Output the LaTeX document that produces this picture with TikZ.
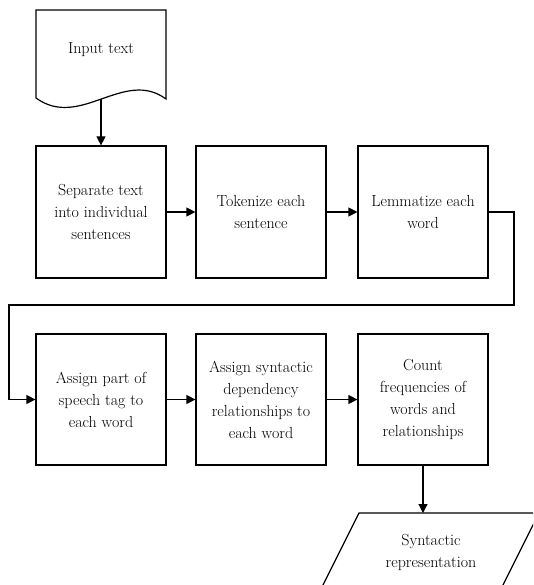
\documentclass[tikz,border=0pt]{standalone}
\usepackage{fontspec}
\usetikzlibrary{arrows.meta}
\begin{document}
\begin{tikzpicture}[x=1pt,y=-1pt,
  line width=1.2pt,
  stepbox/.style={draw, minimum width=130pt, minimum height=131pt, align=center, inner sep=2pt,
    font=\fontsize{16}{22}\selectfont},
  lbl/.style={align=center, font=\fontsize{16}{22}\selectfont},
  arr/.style={-{Triangle[length=9pt,width=9pt]}}]
\useasboundingbox (0,0) rectangle (533,585);
\clip (0,0) rectangle (533,585);
% input document
\draw (36,10) -- (166,10) -- (166,99) .. controls (124,68) and (80,130) .. (36,98) -- cycle;
\node[lbl] (input) at (101,50) {Input text};
% row 1
\node[stepbox, minimum height=132pt] (b1) at (101,212) {Separate text\\into individual\\sentences};
\node[stepbox, minimum height=132pt] (b2) at (261,212) {Tokenize each\\sentence};
\node[stepbox, minimum height=132pt] (b3) at (423,212) {Lemmatize each\\word};
\coordinate (inb) at (101,99);
% row 2
\node[stepbox] (b4) at (101,399.5) {Assign part of\\speech tag to\\each word};
\node[stepbox] (b5) at (261,399.5) {Assign syntactic\\dependency\\relationships to\\each word};
\node[stepbox] (b6) at (423,399.5) {Count\\frequencies of\\words and\\relationships};
% output parallelogram
\draw (359,513) -- (539,513) -- (495.5,600) -- (315.5,600) -- cycle;
\node[lbl] (out) at (431,552) {Syntactic\\representation};
\coordinate (outtop) at (423,513);
% connectors
\draw[arr] (inb) -- (b1.north);
\draw[arr] (b1) -- (b2);
\draw[arr] (b2) -- (b3);
\coordinate (c1) at (514,212);
\coordinate (c2) at (514,305);
\coordinate (c3) at (9,305);
\coordinate (c4) at (9,399.5);
\draw[arr] (b3.east) -- (c1) -- (c2) -- (c3) -- (c4) -- (b4.west);
\draw[arr] (b4) -- (b5);
\draw[arr] (b5) -- (b6);
\draw[arr] (b6.south) -- (outtop);
\end{tikzpicture}
\end{document}
